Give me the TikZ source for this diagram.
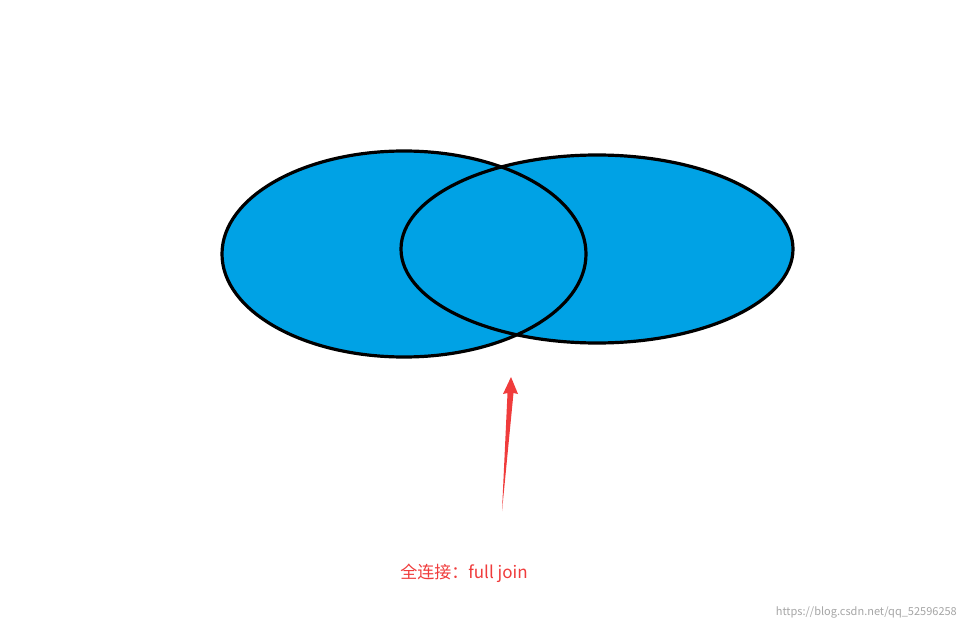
\documentclass[tikz,border=0pt]{standalone}
\usepackage{fontspec}
\setmainfont{Noto Sans CJK SC}
\begin{document}
\begin{tikzpicture}[x=1pt,y=-1pt,
  venn/.style={fill=vblue},
  vline/.style={draw=black,line width=3.2pt},
  lbl/.style={text=vred,font=\fontsize{17}{20}\selectfont,inner sep=0pt}]
\definecolor{vblue}{HTML}{00A2E5}
\definecolor{vred}{HTML}{F03C3C}
\useasboundingbox (0,0) rectangle (966,631);
\fill[white] (0,0) rectangle (966,631);
\coordinate (L) at (404,254);
\coordinate (R) at (597,249);
\fill[venn] (L) ellipse [x radius=182, y radius=103];
\fill[venn] (R) ellipse [x radius=196, y radius=94];
\draw[vline] (L) ellipse [x radius=182, y radius=103];
\draw[vline] (R) ellipse [x radius=196, y radius=94];
\coordinate (tail) at (502,511);
\coordinate (tip) at (511,377);
\fill[vred] (tail) -- (507.5,393) -- (503,394) -- (tip) -- (518,394) -- (513.5,393) -- cycle;
\node[lbl] (t) at (464,573) {全连接：full join};
\node[text=gray!70,font=\fontsize{11}{13}\selectfont,inner sep=0pt,anchor=east] (w) at (957,612) {https://blog.csdn.net/qq\_52596258};
\end{tikzpicture}
\end{document}
